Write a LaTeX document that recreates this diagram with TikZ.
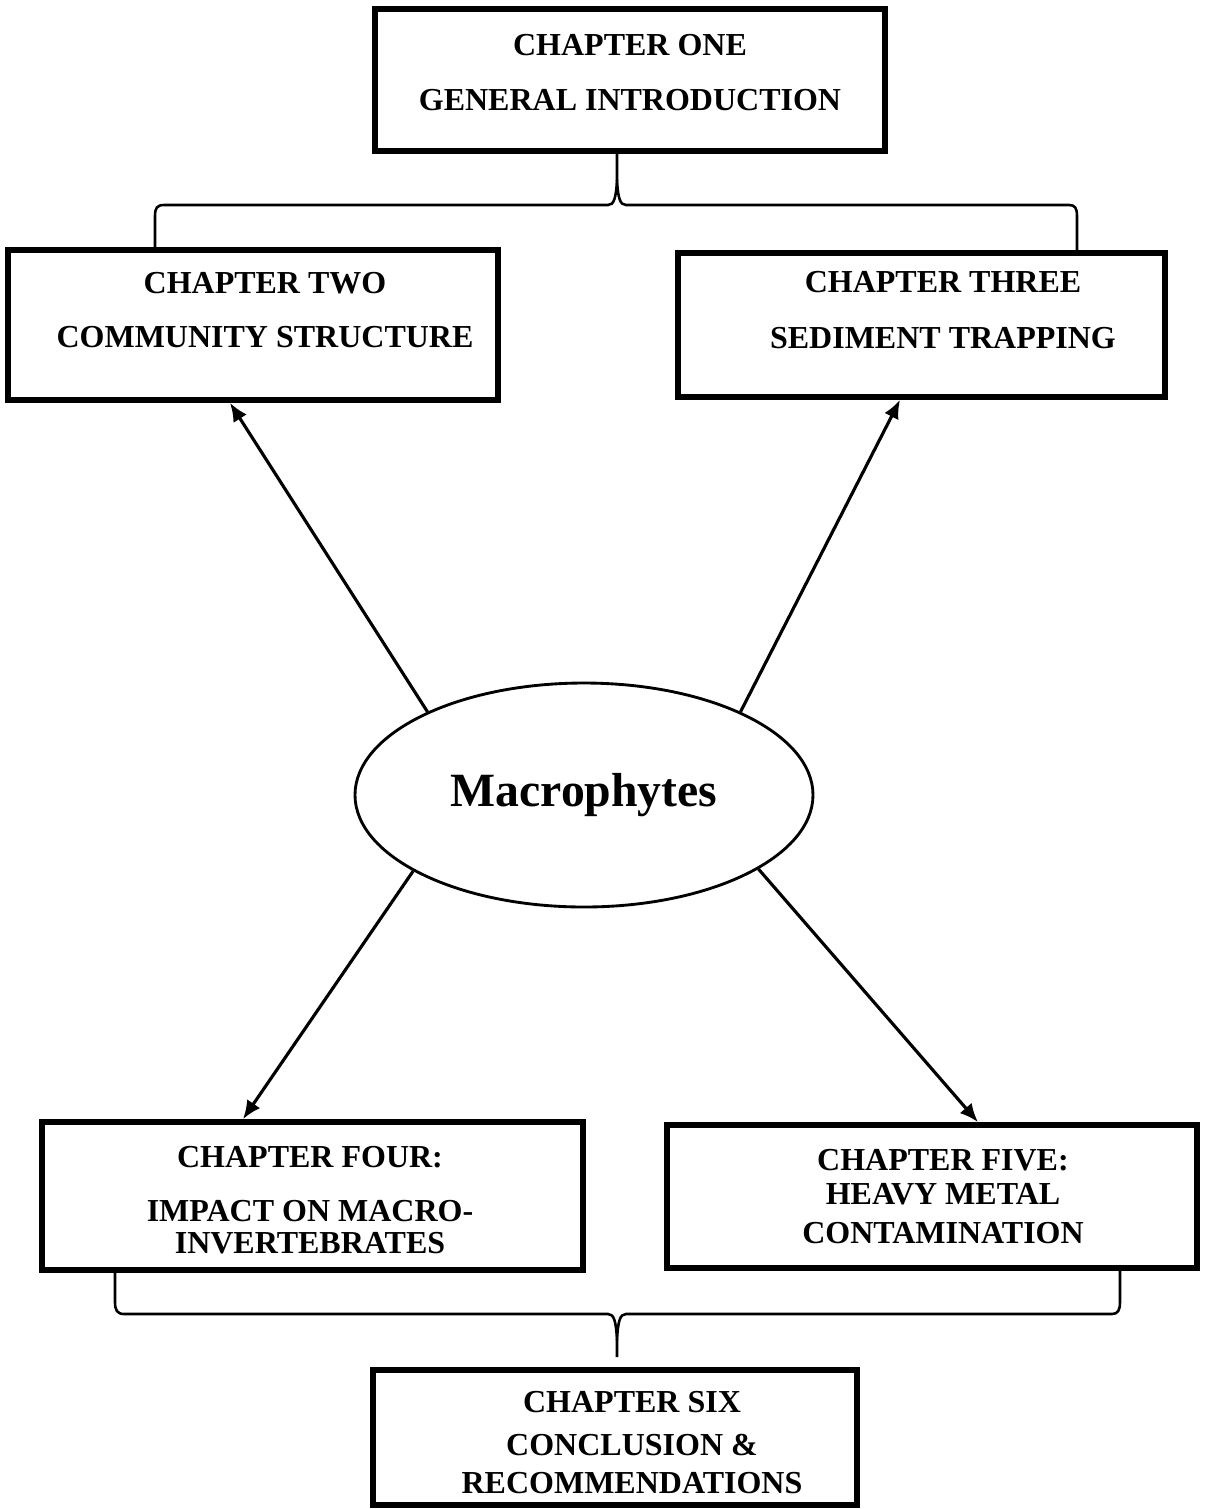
\documentclass[tikz,border=0pt]{standalone}
\usepackage{fontspec}
\setmainfont{Liberation Serif}
\usetikzlibrary{shapes,arrows.meta,positioning}

\tikzset{
  chapbox/.style={draw, line width=2pt, inner sep=0pt},
  chaptext/.style={align=center, inner sep=0pt, font=\fontsize{11.2}{11.2}\selectfont\bfseries},
  conn/.style={->, line width=1.1pt},
  bracket/.style={line width=0.9pt}
}

\begin{document}
\begin{tikzpicture}[x=0.35pt,y=-0.35pt,>={Latex[length=6.5pt,width=5.5pt]}]
  \useasboundingbox (0,0) rectangle (1209,1509);

  % chapter boxes
  \node[chapbox, minimum width=178.5pt, minimum height=49.7pt] (one) at (630,80) {};
  \node[chapbox, minimum width=171.5pt, minimum height=52.5pt] (two) at (253,325) {};
  \node[chapbox, minimum width=170.45pt, minimum height=50.4pt] (three) at (921.5,325) {};
  \node[chapbox, minimum width=189.35pt, minimum height=51.8pt] (four) at (312.5,1196) {};
  \node[chapbox, minimum width=185.5pt, minimum height=50.05pt] (five) at (932,1196.5) {};
  \node[chapbox, minimum width=169.4pt, minimum height=47.25pt] (six) at (615,1437.5) {};

  \node[chaptext] (onetxt) at (630,72.5) {CHAPTER ONE\\[8pt]GENERAL INTRODUCTION};
  \node[chaptext] (twotxt) at (265,310) {CHAPTER TWO\\[8pt]COMMUNITY STRUCTURE};
  \node[chaptext] (threetxt) at (943,310) {CHAPTER THREE\\[8.4pt]SEDIMENT TRAPPING};
  \node[chaptext] (fourtxt) at (310,1200) {CHAPTER FOUR:\\[7.7pt]IMPACT ON MACRO-\\INVERTEBRATES};
  \node[chaptext] (fivetxt) at (943,1196.5) {CHAPTER FIVE:\\[0.7pt]HEAVY METAL\\[2.4pt]CONTAMINATION};
  \node[chaptext] (sixtxt) at (632,1442.5) {CHAPTER SIX\\[3.8pt]CONCLUSION \&\\[2.1pt]RECOMMENDATIONS};

  % centre
  \node[draw, ellipse, line width=1pt, inner sep=0pt, minimum width=160.3pt, minimum height=78.4pt,
        font=\fontsize{16.7}{20}\selectfont\bfseries] (mac) at (584,795) {Macrophytes};

  \draw[conn] (mac.152) -- (two.south -| 230,0);
  \draw[conn] (mac.28.5) -- (three.south -| 900,0);
  \draw[conn] (mac.204) -- (four.north -| 243,0);
  \draw[conn] (mac.337) -- (five.north -| 978,0);

  % brace under chapter one
  \draw[bracket] (two.north -| 155,0) -- (155,216) .. controls (155,208) and (157,205) .. (164,205)
    -- (608,205) .. controls (614,205) and (616,198) .. (617,180) -- (one.south -| 617,0);
  \draw[bracket] (617,180) .. controls (618,198) and (620,205) .. (626,205)
    -- (1069,205) .. controls (1075,205) and (1077,208) .. (1077,216) -- (three.north -| 1077,0);

  % brace over chapter six
  \coordinate (tip6) at (617,1357);
  \draw[bracket] (four.south -| 115,0) -- (115,1302) .. controls (115,1310) and (117,1314) .. (124,1314)
    -- (608,1314) .. controls (614,1314) and (616,1321) .. (617,1340) -- (tip6);
  \draw[bracket] (617,1340) .. controls (618,1321) and (620,1314) .. (626,1314)
    -- (1112,1314) .. controls (1118,1314) and (1120,1310) .. (1120,1302) -- (five.south -| 1120,0);
\end{tikzpicture}
\end{document}
